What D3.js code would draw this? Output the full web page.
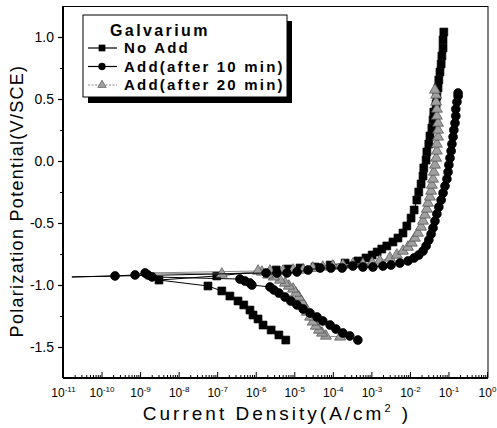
<!DOCTYPE html>
<html>
<head>
<meta charset="utf-8">
<script src="https://cdn.jsdelivr.net/npm/d3@7"></script>
<style>
  body { margin: 0; background: #fff; }
  svg { display: block; font-family: "Liberation Sans", Arial, sans-serif; }
</style>
</head>
<body>
<svg id="chart" width="497" height="428"></svg>
<script>
// values: log10 of current density (A/cm2) and potential (V/SCE)

// No Add - cathodic branch (from most negative potential up to Ecorr)
const noAddCathLogI = [-5.22, -5.40, -5.60, -5.81, -5.94, -6.07, -6.15, -6.31, -6.46, -6.67, -6.88, -7.24, -8.51];
const noAddCathE    = [-1.444, -1.403, -1.363, -1.323, -1.274, -1.242, -1.202, -1.161, -1.129, -1.089, -1.048, -1.008, -0.960];
// No Add - anodic branch
const noAddAnodLogI = [-7.01, -5.47, -5.16, -4.85, -4.46, -4.07, -3.68, -3.35, -3.14, -2.98, -2.85, -2.73, -2.60, -2.44, -2.31, -2.18,
  -2.08, -1.97, -1.89, -1.82, -1.77, -1.71, -1.66, -1.64, -1.58, -1.56, -1.51, -1.48, -1.43, -1.40, -1.38, -1.32, -1.30, -1.27,
  -1.25, -1.22, -1.19, -1.17, -1.14, -1.14, -1.12];
const noAddAnodE    = [-0.927, -0.879, -0.871, -0.863, -0.855, -0.839, -0.823, -0.806, -0.782, -0.758, -0.734, -0.710, -0.685, -0.653, -0.621, -0.581,
  -0.524, -0.460, -0.395, -0.315, -0.250, -0.185, -0.121, -0.056, 0.008, 0.073, 0.137, 0.202, 0.266, 0.331, 0.395, 0.460, 0.524, 0.589,
  0.653, 0.718, 0.782, 0.847, 0.911, 0.976, 1.040];

// Add (after 10 min)
const add10CathLogI = [-3.35, -3.56, -3.74, -3.92, -4.07, -4.26, -4.41, -4.59, -4.77, -4.93, -5.09, -5.24, -5.40, -5.53, -5.63,
  -6.10, -6.15, -6.28, -6.41, -8.69, -8.80, -8.87, -9.13, -9.65];
const add10CathE    = [-1.444, -1.411, -1.387, -1.355, -1.323, -1.290, -1.258, -1.226, -1.194, -1.161, -1.129, -1.097, -1.065, -1.040, -1.016,
  -1.000, -0.984, -0.968, -0.952, -0.935, -0.919, -0.903, -0.919, -0.927];
const add10Spike    = [-10.77, -0.935];
const add10AnodLogI = [-5.73, -5.45, -5.19, -4.93, -4.64, -4.33, -4.05, -3.76, -3.48, -3.22, -2.96, -2.70, -2.49, -2.26, -2.05,
  -1.89, -1.77, -1.66, -1.58, -1.51, -1.45, -1.40, -1.35, -1.30, -1.25, -1.19, -1.14, -1.09, -1.04, -1.01, -0.99, -0.96, -0.93,
  -0.91, -0.88, -0.86, -0.83, -0.81, -0.81, -0.78, -0.75, -0.75];
const add10AnodE    = [-0.903, -0.903, -0.903, -0.895, -0.879, -0.863, -0.863, -0.863, -0.847, -0.855, -0.855, -0.847, -0.839, -0.823, -0.806,
  -0.782, -0.758, -0.726, -0.685, -0.637, -0.589, -0.540, -0.484, -0.427, -0.371, -0.315, -0.258, -0.202, -0.145, -0.089, -0.032, 0.024, 0.081,
  0.137, 0.194, 0.250, 0.306, 0.363, 0.419, 0.476, 0.524, 0.548];

// Add (after 20 min)
const add20CathLogI = [-3.81, -4.18, -4.28, -4.36, -4.44, -4.52, -4.59, -4.67, -4.72, -4.80, -4.88, -4.96, -5.03, -5.14, -5.24,
  -5.37, -5.53, -5.68, -5.84, -6.88];
const add20CathE    = [-1.419, -1.411, -1.387, -1.363, -1.331, -1.298, -1.258, -1.218, -1.177, -1.137, -1.097, -1.065, -1.032, -1.008, -0.984,
  -0.960, -0.935, -0.919, -0.895, -0.911];
const add20Spike    = [-8.82, -0.903];
const add20AnodLogI = [-5.94, -5.63, -5.29, -5.03, -4.77, -4.52, -4.26, -4.00, -3.74, -3.48, -3.22, -2.98, -2.78, -2.52, -2.34,
  -2.18, -2.05, -1.95, -1.87, -1.79, -1.71, -1.66, -1.61, -1.56, -1.53, -1.48, -1.45, -1.43, -1.40, -1.38, -1.35, -1.32, -1.30,
  -1.30, -1.27, -1.27, -1.27, -1.30, -1.30, -1.32, -1.32, -1.35];
const add20AnodE    = [-0.887, -0.887, -0.887, -0.879, -0.879, -0.863, -0.855, -0.847, -0.839, -0.831, -0.831, -0.823, -0.806, -0.782, -0.758,
  -0.726, -0.694, -0.661, -0.621, -0.581, -0.532, -0.484, -0.435, -0.387, -0.339, -0.290, -0.242, -0.194, -0.145, -0.089, -0.032, 0.024, 0.081,
  0.137, 0.194, 0.250, 0.306, 0.363, 0.419, 0.476, 0.532, 0.573];

const legendTitle = 'Galvarium';
const seriesNames = ['No Add', 'Add(after 10 min)', 'Add(after 20 min)'];
const yTicks = [-1.5, -1.0, -0.5, 0.0, 0.5, 1.0];
const yMinorTicks = [-1.25, -0.75, -0.25, 0.25, 0.75];
const xDecades = [-11, -10, -9, -8, -7, -6, -5, -4, -3, -2, -1, 0];

const svg = d3.select('#chart');
const margin = {top: 6, right: 9, bottom: 50, left: 63};
const width = 497 - margin.left - margin.right;
const height = 428 - margin.top - margin.bottom;

const g = svg.append('g')
  .attr('transform', 'translate(' + margin.left + ',' + margin.top + ')');

const x = d3.scaleLog().domain([1e-11, 1]).range([0, 424]);
const y = d3.scaleLinear().domain([-1.75, 1.25]).range([height, 0]);

function pts(logI, E) {
  return logI.map((v, k) => ({i: Math.pow(10, v), e: E[k]}));
}

const noAddMarks = pts(noAddCathLogI, noAddCathE).concat(pts(noAddAnodLogI, noAddAnodE));
const add10Marks = pts(add10CathLogI, add10CathE).concat(pts(add10AnodLogI, add10AnodE));
const add20Marks = pts(add20CathLogI, add20CathE).concat(pts(add20AnodLogI, add20AnodE));

const series = [
  {name: seriesNames[0], marks: noAddMarks, path: noAddMarks,
   symbol: d3.symbolSquare, size: 62, fill: '#000', stroke: '#000', line: '#000'},
  {name: seriesNames[2],
   marks: add20Marks,
   path: pts(add20CathLogI, add20CathE).concat(pts([add20Spike[0]], [add20Spike[1]]), pts(add20AnodLogI, add20AnodE)),
   symbol: d3.symbolTriangle, size: 52, fill: '#a0a0a0', stroke: '#4a4a4a', line: '#8a8a8a'},
  {name: seriesNames[1],
   marks: add10Marks,
   path: pts(add10CathLogI, add10CathE).concat(pts([add10Spike[0]], [add10Spike[1]]), pts(add10AnodLogI, add10AnodE)),
   symbol: d3.symbolCircle, size: 62, fill: '#000', stroke: '#000', line: '#000'}
];

const line = d3.line().x(d => x(d.i)).y(d => y(d.e));

series.forEach(s => {
  g.append('path')
    .datum(s.path)
    .attr('fill', 'none')
    .attr('stroke', s.line)
    .attr('stroke-width', 1)
    .attr('d', line);

  g.append('g').selectAll('path')
    .data(s.marks)
    .enter().append('path')
    .attr('transform', d => 'translate(' + x(d.i) + ',' + y(d.e) + ')')
    .attr('d', d3.symbol().type(s.symbol).size(s.size))
    .attr('fill', s.fill)
    .attr('stroke', s.stroke)
    .attr('stroke-width', 0.7);
});

// x axis: ticks point inward, labels as 10^n
const xAxis = d3.axisBottom(x)
  .tickValues(xDecades.map(p => Math.pow(10, p)))
  .tickSize(-6)
  .tickSizeOuter(0)
  .tickPadding(10);

g.append('g')
  .attr('transform', 'translate(0,' + height + ')')
  .call(xAxis)
  .call(ax => ax.select('.domain').remove())
  .call(ax => ax.selectAll('.tick line').attr('stroke', '#000').attr('stroke-width', 1))
  .call(ax => ax.selectAll('.tick text').each(function(d) {
    const t = d3.select(this);
    t.text('10')
      .attr('font-size', '12px')
      .attr('fill', '#000')
      .attr('font-family', '"Liberation Sans", Arial, sans-serif');
    t.append('tspan')
      .attr('dy', '-0.6em')
      .attr('font-size', '8px')
      .text(Math.round(Math.log10(d)));
  }));

const xMinor = [];
xDecades.slice(0, -1).forEach(p => {
  for (let k = 2; k <= 9; k++) xMinor.push(k * Math.pow(10, p));
});

g.append('g')
  .attr('transform', 'translate(0,' + height + ')')
  .call(d3.axisBottom(x).tickValues(xMinor).tickSize(-3).tickSizeOuter(0).tickFormat(''))
  .call(ax => ax.select('.domain').remove())
  .call(ax => ax.selectAll('.tick line').attr('stroke', '#000'));

// y axis
g.append('g')
  .call(d3.axisLeft(y).tickValues(yTicks).tickSize(5).tickSizeOuter(0).tickPadding(4)
    .tickFormat(d => d.toFixed(1)))
  .call(ax => ax.select('.domain').remove())
  .call(ax => ax.selectAll('.tick line').attr('stroke', '#000').attr('stroke-width', 1.2))
  .call(ax => ax.selectAll('.tick text')
    .attr('font-size', '14px')
    .attr('fill', '#000')
    .attr('font-family', '"Liberation Sans", Arial, sans-serif'));

g.append('g')
  .call(d3.axisLeft(y).tickValues(yMinorTicks).tickSize(3).tickSizeOuter(0).tickFormat(''))
  .call(ax => ax.select('.domain').remove())
  .call(ax => ax.selectAll('.tick line').attr('stroke', '#000'));

// frame
g.append('line').attr('x1', 0).attr('x2', 0).attr('y1', 0).attr('y2', height)
  .attr('stroke', '#000').attr('stroke-width', 2);
g.append('line').attr('x1', 0).attr('x2', width).attr('y1', height).attr('y2', height)
  .attr('stroke', '#000').attr('stroke-width', 2);
g.append('line').attr('x1', width).attr('x2', width).attr('y1', 0).attr('y2', height)
  .attr('stroke', '#000').attr('stroke-width', 1);
g.append('line').attr('x1', 0).attr('x2', width).attr('y1', 0.5).attr('y2', 0.5)
  .attr('stroke', '#000').attr('stroke-width', 1);

// axis titles
svg.append('text')
  .attr('transform', 'translate(' + 23 + ',' + 201 + ') rotate(-90)')
  .attr('text-anchor', 'middle')
  .attr('font-size', '18px')
  .attr('letter-spacing', '1.3px')
  .text('Polarization Potential(V/SCE)');

const xTitle = svg.append('text')
  .attr('x', 277)
  .attr('y', 420)
  .attr('text-anchor', 'middle')
  .attr('font-size', '19px')
  .attr('letter-spacing', '3px');
xTitle.append('tspan').text('Current Density(A/cm');
xTitle.append('tspan').attr('dy', -8).attr('font-size', '11px').text('2');
xTitle.append('tspan').attr('dy', 8).text(' )');

// legend
const legend = svg.append('g').attr('transform', 'translate(83,15)');
legend.append('rect').attr('x', 5).attr('y', 6).attr('width', 204).attr('height', 82).attr('fill', '#000');
legend.append('rect').attr('x', 0).attr('y', 0).attr('width', 204).attr('height', 82)
  .attr('fill', '#fff').attr('stroke', '#000').attr('stroke-width', 1);
legend.append('text')
  .attr('x', 27).attr('y', 21)
  .attr('font-size', '16px').attr('font-weight', 'bold').attr('letter-spacing', '2.4px')
  .text(legendTitle);

const legendOrder = [series[0], series[2], series[1]];
legendOrder.forEach((s, k) => {
  const ly = 33 + k * 18.5;
  legend.append('line')
    .attr('x1', 5).attr('x2', 34).attr('y1', ly).attr('y2', ly)
    .attr('stroke', s.line).attr('stroke-width', 1.2)
    .attr('stroke-dasharray', k === 2 ? '2,1.5' : null);
  legend.append('path')
    .attr('transform', 'translate(19,' + ly + ')')
    .attr('d', d3.symbol().type(s.symbol).size(s.size * 0.6))
    .attr('fill', s.fill).attr('stroke', s.stroke).attr('stroke-width', 0.6);
  legend.append('text')
    .attr('x', 41).attr('y', ly + 5)
    .attr('font-size', '15px').attr('font-weight', 'bold').attr('letter-spacing', '2.2px')
    .text(s.name);
});
</script>
</body>
</html>
